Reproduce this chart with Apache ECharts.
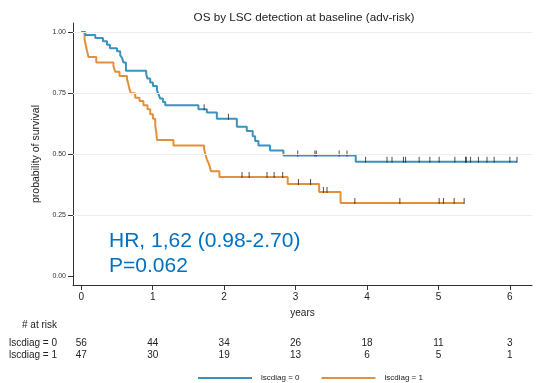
<!DOCTYPE html>
<html>
<head>
<meta charset="utf-8">
<script src="https://cdn.jsdelivr.net/npm/echarts@6/dist/echarts.min.js"></script>
<style>
  html, body { margin: 0; padding: 0; background: #fff; }
  #chart { width: 548px; height: 383px; }
</style>
</head>
<body>
<div id="chart"></div>
<script>
// Kaplan-Meier estimates: [time in years, survival from that time on]
const stepsLsc0 = [
  [0, 1.0], [0.056, 0.988], [0.196, 0.975], [0.303, 0.962], [0.36, 0.948],
  [0.40, 0.933], [0.50, 0.921], [0.545, 0.905], [0.573, 0.892], [0.59, 0.875],
  [0.625, 0.841], [0.909, 0.827], [0.927, 0.809], [0.965, 0.793], [1.003, 0.779],
  [1.059, 0.761], [1.081, 0.745], [1.105, 0.727], [1.143, 0.713], [1.175, 0.700],
  [1.64, 0.683], [1.758, 0.670], [1.898, 0.645], [2.178, 0.612], [2.317, 0.594],
  [2.40, 0.573], [2.434, 0.553], [2.48, 0.535], [2.643, 0.514], [2.83, 0.494],
  [3.842, 0.468], [6.10, 0.468]
];
const stepsLsc1 = [
  [0, 1.0], [0.046, 0.971], [0.06, 0.95], [0.08, 0.923], [0.10, 0.898],
  [0.21, 0.875], [0.45, 0.861], [0.475, 0.837], [0.535, 0.82], [0.64, 0.807],
  [0.66, 0.786], [0.675, 0.765], [0.695, 0.749], [0.755, 0.731], [0.815, 0.717],
  [0.87, 0.70], [0.927, 0.683], [0.965, 0.663], [1.003, 0.645], [1.035, 0.617],
  [1.05, 0.59], [1.06, 0.557], [1.29, 0.535], [1.72, 0.519], [1.735, 0.502],
  [1.758, 0.477], [1.78, 0.464], [1.80, 0.447], [1.815, 0.429], [1.934, 0.406],
  [2.89, 0.377], [3.33, 0.344], [3.63, 0.299], [5.36, 0.299]
];
// Censoring times
const censorLsc0 = [1.72, 2.06, 3.03, 3.27, 3.29, 3.61, 3.72, 3.98, 4.28, 4.35, 4.51,
  4.54, 4.73, 4.88, 5.01, 5.23, 5.38, 5.39, 5.45, 5.56, 5.68, 5.78, 6.0, 6.10];
const censorLsc1 = [2.25, 2.35, 2.60, 2.70, 2.82, 3.04, 3.21, 3.39, 3.44, 3.83, 4.46,
  5.01, 5.07, 5.22, 5.36];
// Number at risk table
const riskTimes = [0, 1, 2, 3, 4, 5, 6];
const riskLsc0 = [56, 44, 34, 26, 18, 11, 3];
const riskLsc1 = [47, 30, 19, 13, 6, 5, 1];
const yTicks = [0, 0.25, 0.5, 0.75, 1.0];
const groupNames = ['lscdiag = 0', 'lscdiag = 1'];

const colBlue = '#3a92bf';
const colOrange = '#e3903a';
const font = 'Liberation Sans, Arial, sans-serif';

// survival at time t from a step list
function survAt(steps, t) {
  let s = steps[0][1];
  for (const p of steps) { if (p[0] <= t) s = p[1]; }
  return s;
}

const chart = echarts.init(document.getElementById('chart'), null, { renderer: 'canvas' });

const xMin = -0.116, xMax = 6.31;

const option = {
  animation: false,
  backgroundColor: '#ffffff',
  title: {
    text: 'OS by LSC detection at baseline (adv-risk)',
    left: 299, top: 7, textAlign: 'center',
    textStyle: { fontFamily: font, fontSize: 11.7, fontWeight: 'normal', color: '#222' }
  },
  grid: { left: 73, right: 16, top: 23, bottom: 98 },
  xAxis: {
    type: 'value', min: xMin, max: xMax,
    name: 'years', nameLocation: 'middle', nameGap: 23,
    nameTextStyle: { fontFamily: font, fontSize: 10, color: '#222' },
    axisLine: { show: true, onZero: false, lineStyle: { color: '#333', width: 1 } },
    axisTick: { show: true, customValues: riskTimes, length: 5, lineStyle: { color: '#333' } },
    axisLabel: { customValues: riskTimes, fontFamily: font, fontSize: 10, color: '#222', margin: 7 },
    splitLine: { show: false }
  },
  yAxis: {
    type: 'value', min: -0.037, max: 1.037,
    name: 'probability of survival', nameLocation: 'middle', nameGap: 31,
    nameTextStyle: { fontFamily: font, fontSize: 10.5, color: '#222' },
    axisLine: { show: true, onZero: false, lineStyle: { color: '#333', width: 1 } },
    axisTick: { show: true, customValues: yTicks, length: 5, lineStyle: { color: '#333' } },
    axisLabel: {
      customValues: yTicks, fontFamily: font, fontSize: 7, color: '#333', margin: 7,
      formatter: v => v.toFixed(2)
    },
    splitLine: { show: false }
  },
  series: [
    {
      // horizontal reference lines
      type: 'line', data: [], silent: true,
      markLine: {
        silent: true, symbol: 'none', label: { show: false },
        lineStyle: { color: '#ececec', width: 1, type: 'solid' },
        data: yTicks.filter(v => v > 0).map(v => ({ yAxis: v }))
      }
    },
    {
      name: groupNames[0], type: 'line', step: 'end', data: stepsLsc0,
      showSymbol: false, symbol: 'none', lineStyle: { color: colBlue, width: 2 },
      itemStyle: { color: colBlue }, z: 3
    },
    {
      name: groupNames[1], type: 'line', step: 'end', data: stepsLsc1,
      showSymbol: false, symbol: 'none', lineStyle: { color: colOrange, width: 2 },
      itemStyle: { color: colOrange }, z: 2
    },
    {
      type: 'scatter', silent: true, symbol: 'rect', symbolSize: [1, 6], symbolOffset: [0, -2],
      itemStyle: { color: '#222' }, z: 4,
      data: censorLsc0.map(t => [t, survAt(stepsLsc0, t)])
    },
    {
      type: 'scatter', silent: true, symbol: 'rect', symbolSize: [1, 6], symbolOffset: [0, -2],
      itemStyle: { color: '#222' }, z: 4,
      data: censorLsc1.map(t => [t, survAt(stepsLsc1, t)])
    }
  ],
  legend: {
    data: groupNames, top: 369, left: 193, itemGap: 22,
    itemWidth: 54, itemHeight: 2, icon: 'rect',
    textStyle: { fontFamily: font, fontSize: 8, color: '#222', padding: [0, 0, 0, 4] }
  }
};
chart.setOption(option);

// Number-at-risk table placed under the axis ticks, plus the hazard ratio note
function drawAnnotations() {
  const els = [];
  const rowY = [343, 355];
  const fs = 10;
  els.push({ type: 'text', x: 57, y: 325, style: { text: '# at risk', fontFamily: font, fontSize: fs, fill: '#222', align: 'right', verticalAlign: 'middle' } });
  groupNames.forEach((g, i) => {
    els.push({ type: 'text', x: 57, y: rowY[i], style: { text: g, fontFamily: font, fontSize: fs, fill: '#222', align: 'right', verticalAlign: 'middle' } });
  });
  [riskLsc0, riskLsc1].forEach((row, i) => {
    row.forEach((n, j) => {
      const px = chart.convertToPixel({ gridIndex: 0 }, [riskTimes[j], 0])[0];
      els.push({ type: 'text', x: px, y: rowY[i], style: { text: String(n), fontFamily: font, fontSize: fs, fill: '#222', align: 'center', verticalAlign: 'middle' } });
    });
  });
  els.push({ type: 'text', x: 109, y: 241, style: { text: 'HR, 1,62 (0.98-2.70)', fontFamily: font, fontSize: 21, fill: '#0070c0', align: 'left', verticalAlign: 'middle' } });
  els.push({ type: 'text', x: 109, y: 266, style: { text: 'P=0.062', fontFamily: font, fontSize: 21, fill: '#0070c0', align: 'left', verticalAlign: 'middle' } });
  chart.setOption({ graphic: els });
}
drawAnnotations();
</script>
</body>
</html>
